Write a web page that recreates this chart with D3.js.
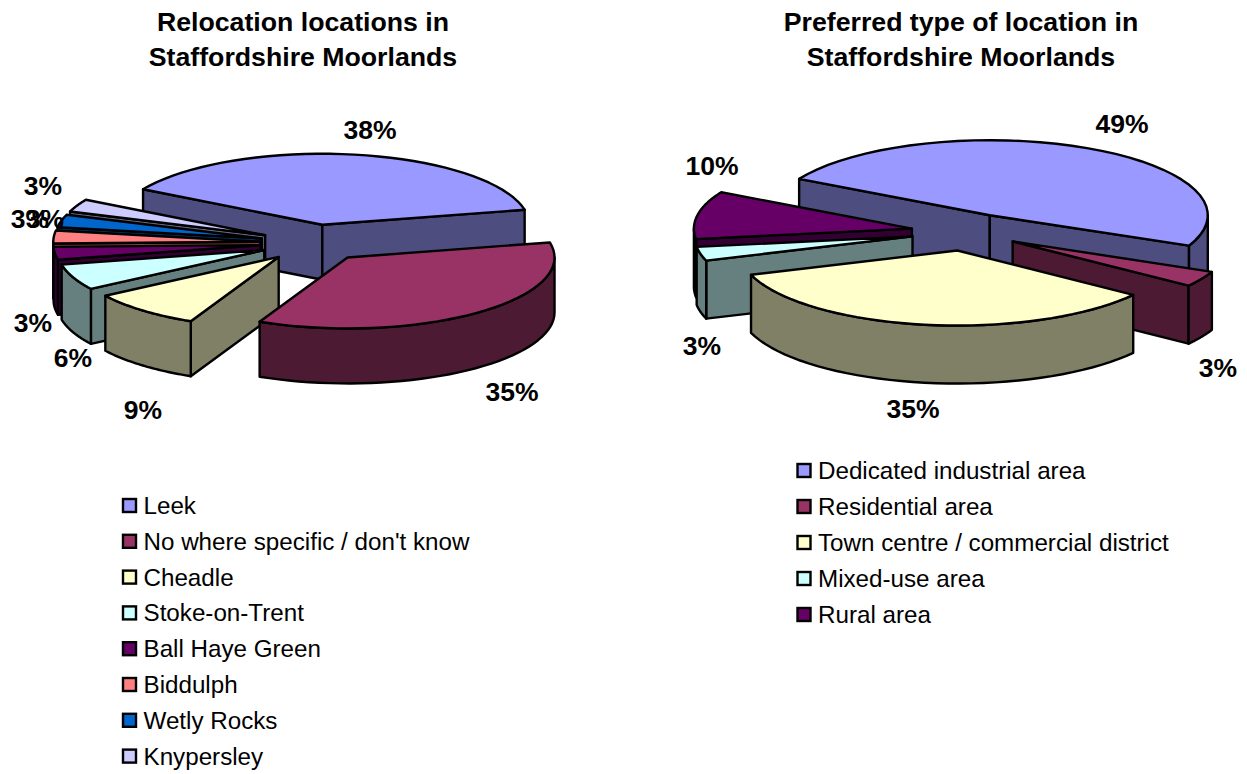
<!DOCTYPE html>
<html>
<head>
<meta charset="utf-8">
<script src="https://cdn.jsdelivr.net/npm/d3@7"></script>
<style>
  html, body { margin: 0; background: #fff; }
  svg { display: block; }
  text { font-family: "Liberation Sans", Arial, sans-serif; fill: #000; }
</style>
</head>
<body>
<div id="chart"></div>
<script>
const width = 1247
const height = 774

// left chart
const leftCategories = ["Leek", "No where specific / don't know", "Cheadle", "Stoke-on-Trent", "Ball Haye Green", "Biddulph", "Wetly Rocks", "Knypersley"]
const leftValues = [38.2, 35.3, 8.8, 5.9, 2.9, 2.9, 2.9, 2.9]
const leftColors = ["#9999FF", "#993366", "#FFFFCC", "#CCFFFF", "#660066", "#FF8080", "#0066CC", "#CCCCFF"]
const leftTitle = ["Relocation locations in", "Staffordshire Moorlands"]

// right chart
const rightCategories = ["Dedicated industrial area", "Residential area", "Town centre / commercial district", "Mixed-use area", "Rural area"]
const rightValues = [48.6, 3.4, 34.7, 3, 10.3]
const rightColors = ["#9999FF", "#993366", "#FFFFCC", "#CCFFFF", "#660066"]
const rightTitle = ["Preferred type of location in", "Staffordshire Moorlands"]

const svg = d3.select("#chart").append("svg").attr("id", "svg")
    .attr("width", width)
    .attr("height", height)

const rad = d => d * Math.PI / 180
const pct = d3.format(".0%")

function pie3d(o) {
    const g = svg.append("g")

    // title
    g.selectAll(".title").data(o.title).enter().append("text")
        .attr("class", "title")
        .attr("x", o.titleX)
        .attr("y", (d, i) => 31 + i * 35)
        .attr("text-anchor", "middle")
        .attr("font-size", 26.7)
        .attr("font-weight", "bold")
        .text(d => d)

    // unit circle -> flattened ellipse
    const x = d3.scaleLinear().domain([-1, 1]).range([o.cx - o.rx, o.cx + o.rx])
    const y = d3.scaleLinear().domain([-1, 1]).range([o.cy - o.ry, o.cy + o.ry])
    const line = d3.line().x(d => x(d[0])).y(d => y(d[1]) + (d[2] || 0))

    const total = d3.sum(o.values)
    const arcs = d3.pie().sort(null)
        .startAngle(rad(o.start))
        .endAngle(rad(o.start + 360))(o.values)
        .map((a, i) => {
            a.mid = (a.startAngle + a.endAngle) / 2
            a.dx = o.explode * Math.sin(a.mid)
            a.dy = -o.explode * Math.cos(a.mid)
            a.color = o.colors[i]
            const c = d3.rgb(a.color)
            a.side = d3.rgb(c.r / 2, c.g / 2, c.b / 2).formatHex()
            return a
        })

    const rim = (a, from, to, h) => d3.range(0, 41).map(k => {
        const t = from + (to - from) * k / 40
        return [a.dx + Math.sin(t), a.dy - Math.cos(t), h]
    })

    // back to front
    const order = arcs.slice().sort((p, q) => p.dy - q.dy)
    order.forEach(a => {
        const s = g.append("g")
        const apex = [a.dx, a.dy]
        const face = t => {
            const p = [a.dx + Math.sin(t), a.dy - Math.cos(t)]
            return line([apex, p, [p[0], p[1], o.depth], [apex[0], apex[1], o.depth]]) + "Z"
        }
        if (Math.sin(a.startAngle) < 0) s.append("path").attr("d", face(a.startAngle)).attr("fill", a.side)
        if (Math.sin(a.endAngle) > 0) s.append("path").attr("d", face(a.endAngle)).attr("fill", a.side)
        const from = Math.max(a.startAngle, rad(90))
        const to = Math.min(a.endAngle, rad(270))
        if (to > from) {
            const pts = rim(a, from, to, 0).concat(rim(a, to, from, o.depth))
            s.append("path").attr("d", line(pts) + "Z").attr("fill", a.side)
        }
        s.append("path")
            .attr("d", line([apex].concat(rim(a, a.startAngle, a.endAngle, 0))) + "Z")
            .attr("fill", a.color)
        s.selectAll("path")
            .attr("stroke", "#000")
            .attr("stroke-width", 2.4)
            .attr("stroke-linejoin", "round")
    })

    // data labels
    g.selectAll(".pct").data(arcs).enter().append("text")
        .attr("class", "pct")
        .attr("x", (d, i) => o.labelPos[i][0])
        .attr("y", (d, i) => o.labelPos[i][1])
        .attr("text-anchor", "middle")
        .attr("font-size", 26.5)
        .attr("font-weight", "bold")
        .text(d => pct(d.value / total))

    // legend
    const legend = g.selectAll(".legend").data(o.categories).enter().append("g")
        .attr("class", "legend")
        .attr("transform", (d, i) => `translate(${o.legendX}, ${o.legendY + i * o.legendStep})`)
    legend.append("rect")
        .attr("x", 0).attr("y", -7)
        .attr("width", 13).attr("height", 13)
        .attr("fill", (d, i) => o.colors[i])
        .attr("stroke", "#000")
        .attr("stroke-width", 2.4)
    legend.append("text")
        .attr("x", 20.5).attr("y", 8)
        .attr("font-size", 24.2)
        .text(d => d)
}

pie3d({
    title: leftTitle, titleX: 303,
    categories: leftCategories, values: leftValues, colors: leftColors,
    cx: 314, cy: 243, rx: 207, ry: 71, depth: 55, explode: 0.26, start: -60,
    labelPos: [[370, 139], [512, 401], [143, 419], [73, 367], [33, 332], [30, 228], [45, 228], [43, 195]],
    legendX: 123, legendY: 506, legendStep: 35.8
})

pie3d({
    title: rightTitle, titleX: 961,
    categories: rightCategories, values: rightValues, colors: rightColors,
    cx: 965.5, cy: 232, rx: 218, ry: 75, depth: 58, explode: 0.25, start: -61,
    labelPos: [[1122, 133], [1218, 377], [913, 418], [702, 355], [712, 175]],
    legendX: 797.5, legendY: 471, legendStep: 36
})
</script>
</body>
</html>
